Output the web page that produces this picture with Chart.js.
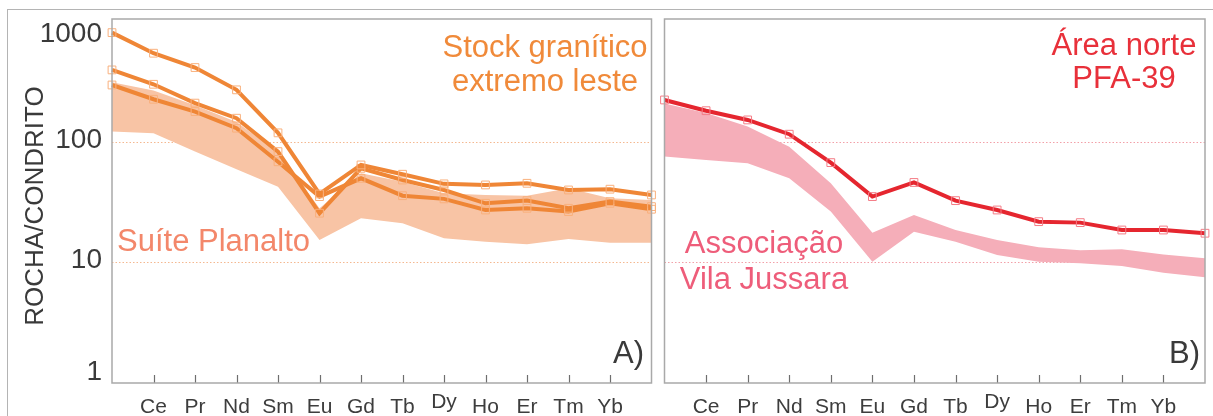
<!DOCTYPE html>
<html>
<head>
<meta charset="utf-8">
<title>ETR normalizados ao condrito</title>
<script src="https://cdn.jsdelivr.net/npm/chart.js@4.4.1/dist/chart.umd.min.js"></script>
<style>
  html, body { margin: 0; padding: 0; background: #ffffff; }
  #wrap { position: relative; width: 1213px; height: 416px; overflow: hidden; background: #ffffff; }
  #frame { position: absolute; left: 7px; top: 9px; width: 1230px; height: 430px;
           border-top: 1.5px solid #b4b4b4; border-left: 1.5px solid #b4b4b4; }
  canvas { position: absolute; top: 0; }
  #chartA { left: 0; }
  #chartB { left: 658px; }
</style>
</head>
<body>
<div id="wrap">
  <div id="frame"></div>
  <canvas id="chartA" width="658" height="416"></canvas>
  <canvas id="chartB" width="555" height="416"></canvas>
</div>
<script>
// Rare earth elements, La to Lu
const elements = ['La', 'Ce', 'Pr', 'Nd', 'Sm', 'Eu', 'Gd', 'Tb', 'Dy', 'Ho', 'Er', 'Tm', 'Yb', 'Lu'];
const tickLabels = ['', 'Ce', 'Pr', 'Nd', 'Sm', 'Eu', 'Gd', 'Tb', 'Dy', 'Ho', 'Er', 'Tm', 'Yb', ''];
const yTickValues = [1, 10, 100, 1000];
const gridValues = [10, 100];

// A) Stock granítico extremo leste (three samples)
const stockLeste1 = [798, 539, 410, 268, 118, 36.8, 64, 53.6, 44.6, 43.7, 45.1, 39.7, 40.3, 36.1];
const stockLeste2 = [392, 298, 208, 156, 82.5, 25.5, 60, 48, 39.7, 30.8, 32.4, 28, 31.8, 28.9];
const stockLeste3 = [294, 224, 177, 129, 68, 35, 49.6, 35.6, 33.5, 27.1, 28, 26.3, 30.8, 27.5];

// A) Suíte Planalto envelope
const planaltoMax = [310, 265, 200, 145, 82, 28, 54.6, 46.5, 37.3, 36.1, 35.6, 41, 33.9, 32.8];
const planaltoMin = [121, 117, 82.5, 59, 42.3, 15.3, 23.1, 21, 15.8, 14.8, 14.1, 15.6, 14.5, 14.5];

// B) Área norte, amostra PFA-39
const pfa39 = [221, 180, 151, 115, 66.9, 35, 45.8, 32.4, 27.1, 21.7, 21.3, 18.5, 18.5, 17.4];

// B) Associação Vila Jussara envelope
const jussaraMax = [207, 172, 133, 90.7, 45.1, 17.6, 24.6, 18.5, 15.3, 13.3, 12.6, 12.8, 11.6, 10.8];
const jussaraMin = [75, 70.4, 66, 49.6, 26.3, 10.1, 17.9, 14.8, 11.5, 10.1, 9.8, 9.3, 8.2, 7.5];

const FONT = "'Liberation Sans', Arial, Helvetica, sans-serif";

// Frame, dotted grid, inner ticks, axis labels and panel notes
const panelDecor = {
  id: 'panelDecor',
  beforeDraw(chart, args, o) {
    const { ctx, chartArea: a, scales: { y } } = chart;
    ctx.save();
    ctx.strokeStyle = o.gridColor;
    ctx.lineWidth = 1;
    ctx.setLineDash([1.5, 2]);
    gridValues.forEach(v => {
      const py = Math.round(y.getPixelForValue(v)) + 0.5;
      ctx.beginPath();
      ctx.moveTo(a.left, py);
      ctx.lineTo(a.right, py);
      ctx.stroke();
    });
    ctx.restore();
  },
  afterDraw(chart, args, o) {
    const { ctx, chartArea: a, scales: { x, y } } = chart;
    ctx.save();

    // small inward ticks on the bottom axis
    ctx.strokeStyle = '#6e6e6e';
    ctx.lineWidth = 1.2;
    tickLabels.forEach((t, i) => {
      if (!t) return;
      const px = Math.round(x.getPixelForValue(i)) + 0.5;
      ctx.beginPath();
      ctx.moveTo(px, a.bottom);
      ctx.lineTo(px, a.bottom - 8);
      ctx.stroke();
    });

    // element labels
    ctx.fillStyle = '#3d3d3d';
    ctx.font = '21px ' + FONT;
    ctx.textAlign = 'center';
    ctx.textBaseline = 'alphabetic';
    tickLabels.forEach((t, i) => {
      if (!t) return;
      const lift = t === 'Dy' ? 5 : 0;
      ctx.fillText(t, x.getPixelForValue(i), a.bottom + 30 - lift);
    });

    // plot box
    ctx.strokeStyle = '#a9a9a9';
    ctx.lineWidth = 1.5;
    ctx.strokeRect(a.left, a.top, a.right - a.left, a.bottom - a.top);

    // logarithmic tick labels, kept inside the plot height
    if (o.yLabels) {
      ctx.fillStyle = '#3a3a3a';
      ctx.font = '28px ' + FONT;
      ctx.textAlign = 'right';
      yTickValues.forEach(v => {
        let base = y.getPixelForValue(v) + 6;
        base = Math.min(Math.max(base, a.top + 23), a.bottom - 3);
        ctx.fillText(String(v), a.left - 10, base);
      });
      ctx.save();
      ctx.translate(43, (a.top + a.bottom) / 2 + 5);
      ctx.rotate(-Math.PI / 2);
      ctx.font = '26px ' + FONT;
      ctx.textAlign = 'center';
      ctx.fillText('ROCHA/CONDRITO', 0, 0);
      ctx.restore();
    }

    // panel notes
    (o.notes || []).forEach(n => {
      ctx.fillStyle = n.color;
      ctx.font = n.size + 'px ' + FONT;
      ctx.textAlign = n.align;
      n.lines.forEach((line, k) => ctx.fillText(line, n.x, n.y + k * n.lh));
    });

    ctx.restore();
  }
};

function bandPair(minData, maxData, color, name) {
  return [
    { label: name + ' (mín.)', data: minData, borderColor: 'rgba(0,0,0,0)', borderWidth: 0,
      pointRadius: 0, fill: false, order: 2 },
    { label: name, data: maxData, borderColor: 'rgba(0,0,0,0)', borderWidth: 0,
      pointRadius: 0, fill: '-1', backgroundColor: color, order: 2 }
  ];
}

function sampleLine(name, data, color, marker) {
  return {
    label: name, data, borderColor: color, borderWidth: 4, tension: 0,
    pointStyle: 'rect', pointRadius: 5.5, pointBorderWidth: 1,
    pointBorderColor: marker, pointBackgroundColor: 'rgba(0,0,0,0)',
    fill: false, order: 1, clip: false
  };
}

function makePanel(id, datasets, padding, decor) {
  return new Chart(document.getElementById(id), {
    type: 'line',
    data: { labels: elements, datasets },
    plugins: [panelDecor],
    options: {
      responsive: false,
      animation: false,
      events: [],
      layout: { padding },
      scales: {
        x: { type: 'category', offset: false, display: false },
        y: { type: 'logarithmic', min: 1, max: 1035, display: false }
      },
      plugins: {
        legend: { display: false },
        tooltip: { enabled: false },
        filler: { drawTime: 'beforeDatasetsDraw' },
        panelDecor: decor
      }
    }
  });
}

const orange = '#ef8636';
const orangeMarker = '#f9b07c';
const red = '#e5262f';
const redMarker = '#f47c86';

makePanel('chartA', [
  ...bandPair(planaltoMin, planaltoMax, '#f8c4a5', 'Suíte Planalto'),
  sampleLine('Stock granítico extremo leste 1', stockLeste1, orange, orangeMarker),
  sampleLine('Stock granítico extremo leste 2', stockLeste2, orange, orangeMarker),
  sampleLine('Stock granítico extremo leste 3', stockLeste3, orange, orangeMarker)
], { left: 112, right: 4, top: 19, bottom: 33 }, {
  yLabels: true,
  gridColor: '#f4b890',
  notes: [
    { lines: ['Stock granítico', 'extremo leste'], x: 545, y: 57, lh: 34, size: 31, color: '#f08a3a', align: 'center' },
    { lines: ['Suíte Planalto'], x: 117, y: 251, lh: 0, size: 31, color: '#f3876a', align: 'left' },
    { lines: ['A)'], x: 644, y: 363, lh: 0, size: 31, color: '#3a3a3a', align: 'right' }
  ]
});

makePanel('chartB', [
  ...bandPair(jussaraMin, jussaraMax, '#f5aeb9', 'Associação Vila Jussara'),
  sampleLine('PFA-39', pfa39, red, redMarker)
], { left: 4, right: 8, top: 19, bottom: 33 }, {
  yLabels: false,
  gridColor: '#f2a0a8',
  notes: [
    { lines: ['Área norte', 'PFA-39'], x: 466, y: 55, lh: 33, size: 31, color: '#e8303a', align: 'center' },
    { lines: ['Associação', 'Vila Jussara'], x: 106, y: 253, lh: 36, size: 31, color: '#ee5d7a', align: 'center' },
    { lines: ['B)'], x: 542, y: 363, lh: 0, size: 31, color: '#3a3a3a', align: 'right' }
  ]
});
</script>
</body>
</html>
